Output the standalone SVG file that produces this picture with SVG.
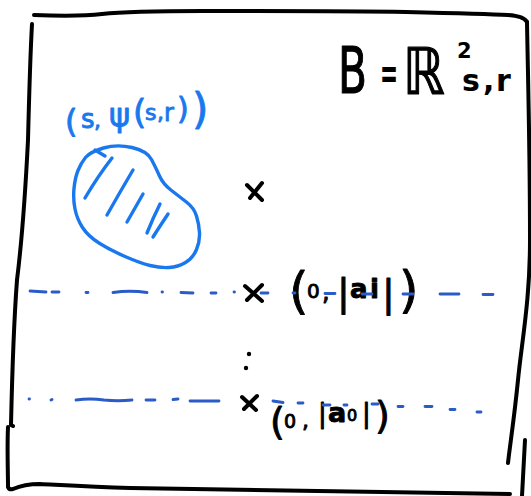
<svg xmlns="http://www.w3.org/2000/svg" width="531" height="496" viewBox="0 0 531 496">
<style>
.ink{fill:none;stroke:#000;stroke-width:4;stroke-linecap:round;stroke-linejoin:round}
.bl{fill:none;stroke:#1a78ee;stroke-width:3.4;stroke-linecap:round;stroke-linejoin:round}
.dash{fill:none;stroke:#2a5bc6;stroke-width:2.8;stroke-linecap:round}
.t{font-family:"DejaVu Sans","Noto Sans",sans-serif;fill:#000;stroke:#000;stroke-width:1.2;stroke-linejoin:round}
.tb{font-family:"DejaVu Sans","Noto Sans",sans-serif;font-weight:bold;fill:#000}
.tr{font-family:"DejaVu Sans","Noto Sans",sans-serif;fill:#000;stroke:#000;stroke-width:0.9;stroke-linejoin:round}
.tblue{font-family:"DejaVu Sans","Noto Sans",sans-serif;fill:#1a78ee;stroke:#1a78ee;stroke-width:0.9;stroke-linejoin:round}
</style>
<rect width="531" height="496" fill="#fff"/>
<g id="frame" class="ink">
<path d="M34,15 C60,16 85,16 102,14 C120,12 150,11 203,11 C260,11 350,11 406,12 C450,13 490,14 508,15 Q524,16 527,22"/>
<path d="M527,22 C528,80 530,150 530,240 C530,300 522,340 518,380 C514,420 510,445 508,463"/>
<path d="M525,440 L522,496"/>
<path d="M32,24 C30,60 29,100 28,140 C26,180 22,240 17,280 C14,320 12,380 11,425 L13,426"/>
<path d="M8,427 C7,450 8,470 8,487 Q9,490 13,489 C22,485 30,484 40,484 C60,485 90,487 130,488 C250,491 380,493 510,494"/>
</g>
<g id="title">
<text class="t" x="0" y="0" font-size="64" transform="translate(338,93) scale(0.66,1)" stroke-width="1.8">B</text>
<text class="tb" x="0" y="0" font-size="44" transform="translate(380,88) scale(0.49,1)">=</text>
<text class="t" x="403" y="94" font-size="64" textLength="42" lengthAdjust="spacingAndGlyphs" stroke-width="2">ℝ</text>
<text class="tb" x="457" y="58" font-size="21">2</text>
<text class="tb" y="91" font-size="30"><tspan x="462">s</tspan><tspan x="483">,</tspan><tspan x="496">r</tspan></text>
</g>
<g id="region">
<path class="bl" d="M85.5,157.5 Q90,152 103.5,148 Q117,144 132,147.5 Q147,151 151.5,159.5 Q156,168 159.5,176 Q163,184 171.5,190.5 Q180,197 187,202.5 Q194,208 196.5,216 Q199,224 199.5,232.5 Q200,241 196.5,249.5 Q193,258 185.5,262.5 Q178,267 169,267.5 Q160,268 150,265.5 Q140,263 125,256.5 Q110,250 99,243 Q88,236 82.5,227.5 Q77,219 75,209 Q73,199 74,188.5 Q75,178 78,170.5 Q81,163 85.5,157.5 Z"/>
<path class="bl" d="M112,158 Q98,176 85,198 M133,170 Q120,192 107,215 M143,194 Q135,208 127,222 M160,204 Q153,218 147,233 M168,214 Q160,226 153,237 M95,150 L105,156"/>
<text class="tblue" y="132"><tspan x="65" font-size="32">(</tspan><tspan x="81" font-size="26" dy="-4">s</tspan><tspan x="94" font-size="22" dy="0">, </tspan><tspan x="109" font-size="32" dy="-2">ψ</tspan><tspan x="133" font-size="34" dy="-2">(</tspan><tspan x="145" font-size="22" dy="-4">s</tspan><tspan x="157" font-size="22" dy="0">,</tspan><tspan x="164" font-size="24" dy="1">r</tspan><tspan x="177" font-size="30" dy="-2">)</tspan><tspan x="192" font-size="42" dy="5">)</tspan></text>
</g>
<g id="point-top" class="ink">
<path d="M247,185 L262,200 M262,183 L250,198"/>
</g>
<g id="point-ai">
<path class="ink" d="M245,286 L262,301 M262,285 L247,300"/>
<text class="tr" y="300"><tspan x="289" font-size="50" dy="8">(</tspan><tspan x="307" font-size="20" dy="-10">0</tspan><tspan x="322" font-size="24" dy="2">, </tspan><tspan x="337" font-size="38" dy="5">|</tspan><tspan x="350" font-size="26" dy="-7" font-weight="bold">a</tspan><tspan x="370" font-size="26" dy="0" font-weight="bold">i</tspan><tspan x="382" font-size="38" dy="8">|</tspan><tspan x="399" font-size="50" dy="1">)</tspan></text>
</g>
<g id="dots" fill="#000">
<circle cx="249" cy="354" r="2.2"/>
<circle cx="246" cy="368" r="2.2"/>
</g>
<g id="point-a0">
<path class="ink" d="M242,397 L256,410 M257,396 L244,409"/>
<text class="tr" y="434"><tspan x="270" font-size="38">(</tspan><tspan x="284" font-size="19" dy="-6">0</tspan><tspan x="302" font-size="22" dy="0">, </tspan><tspan x="318" font-size="26" dy="-6">|</tspan><tspan x="328" font-size="27" dy="0" font-weight="bold">a</tspan><tspan x="347" font-size="16" dy="-1">0</tspan><tspan x="362" font-size="26" dy="1">|</tspan><tspan x="375" font-size="38" dy="6">)</tspan></text>
</g>
<g id="level-lines" class="dash">
<path d="M30,291 L46,292 M52,292 L59,292 M86,292.5 L88,292.5 M113,292.5 Q130,290 147,292.5 M162,292 L162.5,292 M181,292.5 L193,293 M211,293 L216,293 M234,292 L234.5,292 M261,293 L268,293 M293,293 L295,293 M325,293.5 L335,293.5 M362,294 L372,294 M403,294 L413,294 M440,294 L459,294 M483,294.5 L493,294.5"/>
<path d="M29,399 L29.5,399 M51,400 L52,399.5 M76,400 Q90,398 104,400 Q118,401.5 132,400 M146,400 L155,400 M173,399.5 L178,399 M190,401 L219,401 M273,401 L283,402.5 M298,403 L303,403 M323,405 L330,405 M344,405 L347,405 M372,404 L378,404 M398,406.5 L403,406.5 M425,406.5 L432,406.5 M450,409.5 L455,409.5 M477,412 L481,412"/>
</g>
</svg>
